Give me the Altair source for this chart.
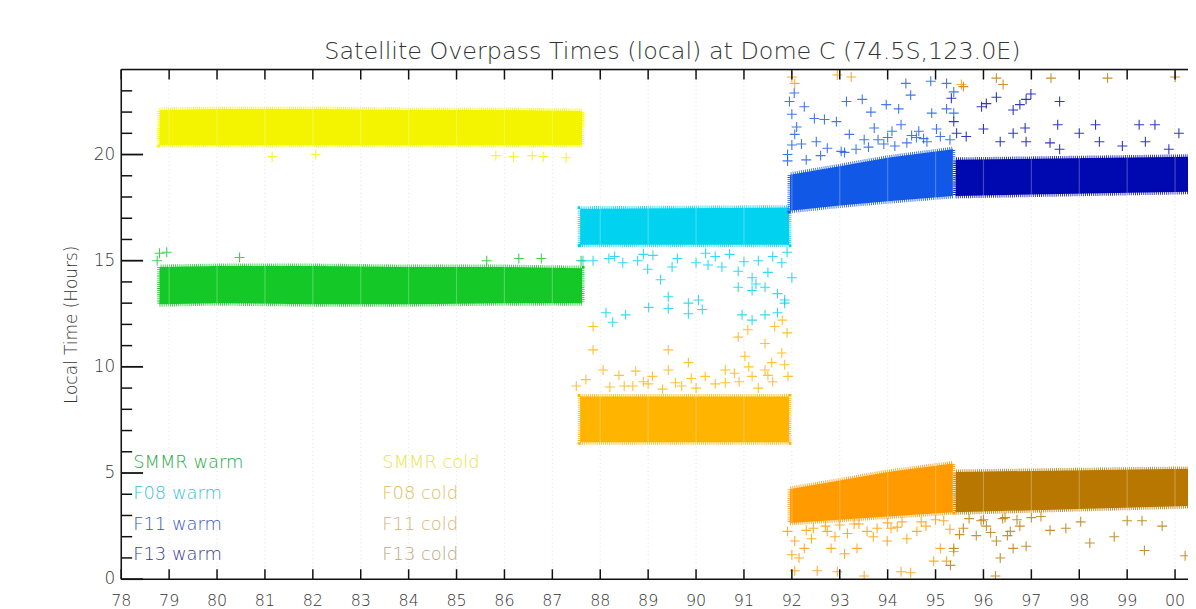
import altair as alt
import pandas as pd

# ---------------- data ----------------
years = list(range(78, 101))
year_labels = ["78", "79", "80", "81", "82", "83", "84", "85", "86", "87", "88",
               "89", "90", "91", "92", "93", "94", "95", "96", "97", "98", "99", "00"]
y_major = [0, 5, 10, 15, 20]
y_minor = [1, 2, 3, 4, 6, 7, 8, 9, 11, 12, 13, 14, 16, 17, 18, 19, 21, 22, 23]

series = ["SMMR warm", "F08 warm", "F11 warm", "F13 warm",
          "SMMR cold", "F08 cold", "F11 cold", "F13 cold"]
colors = ["#14c828", "#00d2f0", "#1258e6", "#0008b0",
          "#f4f400", "#ffb400", "#ff9a00", "#b87800"]
text_colors = ["#22aa44", "#3cbede", "#3a58b8", "#3a3a8c",
               "#e6e640", "#e0be58", "#d8b470", "#bca67c"]

# dense bands (x = year, lo/hi = local time in hours)
band_series = ["SMMR warm"] * 6 + ["SMMR cold"] * 6 + ["F08 warm"] * 2 + ["F08 cold"] * 2 + \
              ["F11 warm"] * 4 + ["F11 cold"] * 4 + ["F13 warm"] * 2 + ["F13 cold"] * 2
band_x = [78.8, 80, 82, 84, 86, 87.62,
          78.8, 80, 82, 84, 86, 87.62,
          87.58, 91.94,
          87.58, 91.94,
          91.96, 93, 94, 95.36,
          91.96, 93, 94, 95.36,
          95.42, 100.4,
          95.42, 100.4]
band_lo = [12.95, 13.0, 12.95, 12.95, 13.0, 13.0,
           20.45, 20.45, 20.45, 20.45, 20.45, 20.45,
           15.75, 15.75,
           6.45, 6.45,
           17.35, 17.6, 17.8, 18.05,
           2.65, 2.8, 2.95, 3.15,
           18.05, 18.25,
           3.15, 3.45]
band_hi = [14.7, 14.75, 14.75, 14.7, 14.7, 14.65,
           22.1, 22.15, 22.15, 22.1, 22.1, 22.05,
           17.45, 17.5,
           8.6, 8.6,
           19.05, 19.45, 19.85, 20.25,
           4.25, 4.65, 5.05, 5.45,
           19.75, 19.9,
           5.05, 5.2]

# scattered overpasses outside the dense bands
smmr_warm_x = [78.8, 78.95, 78.75, 80.47, 85.63, 86.3, 86.77, 87.6]
smmr_warm_y = [15.35, 15.4, 15.0, 15.15, 15.0, 15.1, 15.1, 15.0]
smmr_cold_x = [81.15, 82.06, 85.82, 86.19, 86.58, 86.81, 87.29]
smmr_cold_y = [19.9, 20.0, 19.95, 19.9, 19.95, 19.9, 19.85]
f08_warm_x = [87.64, 87.85, 88.18, 88.47, 88.78, 88.99, 89.26, 89.61, 90.0, 90.25, 90.54,
              90.88, 91.17, 91.5, 91.79, 92.0, 90.88, 91.17, 91.44, 91.7, 91.85, 89.42,
              89.84, 90.05, 89.01, 89.42, 88.12, 88.26, 88.53, 89.84, 90.13, 90.96, 91.17,
              91.44, 91.7, 91.85, 88.3, 89.1, 90.4, 91.3, 90.7, 91.0, 91.6, 91.9, 89.5,
              88.9, 90.2, 91.25]
f08_warm_y = [15.0, 15.0, 15.1, 14.9, 15.0, 14.6, 14.1, 15.1, 14.9, 14.8, 14.7,
              14.5, 14.2, 14.45, 14.9, 14.2, 13.75, 13.6, 13.75, 13.45, 13.15, 13.3,
              13.0, 13.15, 12.8, 12.75, 12.55, 12.1, 12.45, 12.5, 12.7, 12.45, 12.2,
              12.45, 12.55, 13.0, 15.2, 15.25, 15.2, 15.0, 15.3, 14.95, 15.2, 15.4, 14.7,
              15.3, 15.35, 13.9]
f08_cold_x = [87.85, 87.85, 89.42, 87.7, 88.06, 88.39, 88.74, 89.09, 89.42, 89.84, 90.19,
              90.61, 90.88, 91.02, 91.17, 91.44, 91.58, 91.79, 91.64, 91.08, 91.44, 91.92,
              87.5, 89.57, 90.61, 88.68, 91.8, 91.9, 90.9, 89.0, 88.2, 88.9, 89.3, 89.7,
              90.0, 90.4, 90.8, 91.3, 91.6, 91.85, 88.5, 89.9, 91.1, 91.5]
f08_cold_y = [11.9, 10.8, 10.8, 9.4, 9.85, 9.6, 9.8, 9.55, 9.85, 10.2, 9.55,
              9.85, 11.4, 10.5, 9.55, 11.1, 10.2, 10.65, 11.9, 11.75, 9.85, 9.55,
              9.1, 9.25, 9.25, 9.1, 12.2, 11.6, 9.3, 9.2, 9.05, 9.3, 8.95, 9.1,
              9.0, 9.2, 9.7, 9.0, 9.3, 10.1, 9.1, 9.45, 10.0, 9.6]
f11_warm_x = [91.95, 92.0, 92.26, 92.47, 92.68, 92.93, 93.14, 93.47, 93.65, 93.97, 94.23,
              94.38, 94.48, 94.9, 95.23, 95.38, 94.92, 95.23, 95.38, 92.06, 92.2, 92.51,
              92.74, 93.2, 93.51, 93.72, 94.09, 94.28, 94.65, 95.02, 91.91, 91.91, 93.03,
              93.34, 93.92, 94.4, 94.82, 92.1, 93.8, 94.6, 92.0, 92.3, 92.6, 93.1, 93.6,
              94.0, 94.15, 94.5, 94.75, 95.1, 95.3, 92.05]
f11_warm_y = [22.5, 21.9, 22.25, 21.7, 21.65, 21.55, 22.5, 22.6, 22.0, 22.35, 22.15,
              23.35, 22.8, 23.45, 23.35, 22.95, 21.95, 22.15, 21.95, 20.95, 20.5, 20.6,
              20.3, 20.95, 20.7, 21.25, 21.1, 21.4, 21.1, 21.2, 20.0, 19.7, 20.15,
              20.25, 20.5, 20.55, 20.6, 21.3, 20.7, 20.8, 20.45, 19.75, 19.95, 20.1, 20.35,
              20.8, 20.4, 20.9, 20.75, 20.85, 20.7, 22.9]
f13_warm_x = [95.33, 95.96, 96.06, 96.27, 96.62, 96.76, 96.89, 96.99, 97.59, 96.0, 96.35,
              96.62, 96.87, 96.89, 97.55, 97.39, 97.59, 98.0, 98.34, 98.42, 98.9, 99.25,
              99.58, 99.38, 100.08, 99.87, 95.44, 95.64, 95.38]
f13_warm_y = [22.65, 22.25, 22.4, 22.7, 22.1, 22.35, 22.6, 22.85, 22.5, 21.2, 20.6,
              21.0, 21.25, 20.6, 21.4, 20.55, 20.25, 21.0, 21.4, 20.6, 20.4, 21.4,
              21.4, 20.6, 21.0, 20.25, 21.0, 20.85, 21.55]
f11_cold_x = [91.91, 92.06, 92.0, 92.06, 92.26, 92.41, 92.53, 92.74, 92.82, 92.95, 93.16,
              93.36, 93.51, 93.57, 93.78, 93.99, 94.07, 94.28, 94.48, 94.4, 94.61, 94.96,
              95.1, 95.23, 95.38, 94.8, 95.17, 92.0, 92.06, 92.95, 93.24, 95.54, 92.3,
              92.9, 93.4, 94.2, 92.15, 93.1, 92.45, 92.7, 93.0, 93.3, 93.7, 94.0, 94.3,
              94.7, 95.0, 95.3]
f11_cold_y = [2.25, 1.8, 1.15, 0.4, 1.45, 1.9, 0.4, 2.25, 1.45, 0.35, 2.15,
              1.45, 0.15, 2.25, 2.4, 1.8, 2.4, 0.35, 0.3, 1.9, 2.25, 0.85,
              1.45, 0.85, 1.3, 2.5, 2.75, 23.65, 23.35, 23.75, 23.65, 23.3, 2.3,
              2.0, 2.6, 2.45, 1.0, 1.2, 2.4, 2.5, 2.55, 2.6, 2.0, 2.65, 2.7,
              2.7, 2.8, 2.35]
f13_cold_x = [95.38, 95.31, 95.58, 95.85, 96.06, 96.27, 96.35, 96.56, 96.62, 96.76, 96.89,
              96.25, 97.39, 97.72, 98.03, 98.22, 98.73, 99.0, 99.31, 99.36, 99.73, 100.21,
              95.58, 96.27, 96.41, 97.41, 98.59, 100.0, 96.0, 96.45, 95.7, 95.95, 96.15,
              96.4, 96.7, 97.0, 97.2, 95.5, 96.5]
f13_cold_y = [1.45, 0.65, 2.4, 2.05, 2.5, 1.8, 1.0, 2.25, 1.45, 2.5, 1.55,
              0.15, 2.3, 2.4, 2.7, 1.7, 2.0, 2.75, 2.75, 1.35, 2.5, 1.1,
              23.2, 23.6, 23.3, 23.6, 23.6, 23.65, 2.8, 2.9, 2.85, 2.75, 2.2,
              2.85, 2.8, 2.9, 2.95, 2.1, 2.05]

legend_x = [78.25, 78.25, 78.25, 78.25, 83.45, 83.45, 83.45, 83.45]
legend_y = [5.47, 4.02, 2.57, 1.12, 5.47, 4.02, 2.57, 1.12]

title_text = "Satellite Overpass Times (local) at Dome C (74.5S,123.0E)"
ytitle_text = "Local Time (Hours)"

# ---------------- layout ----------------
X_MAX = 100.27
W, H = 1074, 513
FONT = "DejaVu Sans"
AXIS_COLOR = "#111111"
TEXT_COLOR = "#333333"

xs = alt.Scale(domain=[78, X_MAX], nice=False, zero=False)
ys = alt.Scale(domain=[0, 24], nice=False, zero=False)
cs = alt.Scale(domain=series, range=colors)

bands = pd.DataFrame({"series": band_series, "x": band_x, "lo": band_lo, "hi": band_hi})

pts = []
for name, xv, yv in [("SMMR warm", smmr_warm_x, smmr_warm_y), ("SMMR cold", smmr_cold_x, smmr_cold_y),
                     ("F08 warm", f08_warm_x, f08_warm_y), ("F08 cold", f08_cold_x, f08_cold_y),
                     ("F11 warm", f11_warm_x, f11_warm_y), ("F11 cold", f11_cold_x, f11_cold_y),
                     ("F13 warm", f13_warm_x, f13_warm_y), ("F13 cold", f13_cold_x, f13_cold_y)]:
    for a, b in zip(xv, yv):
        pts.append({"series": name, "x": a, "y": b})
points = pd.DataFrame(pts)

yrs = pd.DataFrame({"year": years, "label": year_labels})
ymaj = pd.DataFrame({"v": y_major, "label": [str(v) for v in y_major]})
ymin = pd.DataFrame({"v": y_minor})
leg = pd.DataFrame({"series": series, "x": legend_x, "y": legend_y, "tc": text_colors})

grid = alt.Chart(yrs).mark_rule(color="#dcdcdc", strokeWidth=1, strokeDash=[1, 3]).encode(
    x=alt.X("year:Q", scale=xs, axis=None), y=alt.value(0), y2=alt.value(H))
grid_over = alt.Chart(yrs).mark_rule(color="white", strokeWidth=1.2, opacity=0.25).encode(
    x=alt.X("year:Q", scale=xs, axis=None), y=alt.value(0), y2=alt.value(H))

area = alt.Chart(bands).mark_area(clip=True, opacity=1, strokeWidth=5, strokeDash=[0.8, 1.3]).encode(
    x=alt.X("x:Q", scale=xs, axis=None),
    y=alt.Y("lo:Q", scale=ys, axis=None),
    y2="hi:Q",
    color=alt.Color("series:N", scale=cs, legend=None),
    stroke=alt.Stroke("series:N", scale=cs, legend=None),
    detail="series:N")

cross = alt.Chart(points).mark_point(
    shape="M-1,0L1,0M0,-1L0,1", filled=False, size=100, strokeWidth=1.1, opacity=0.8, clip=True
).encode(
    x=alt.X("x:Q", scale=xs, axis=None),
    y=alt.Y("y:Q", scale=ys, axis=None),
    color=alt.Color("series:N", scale=cs, legend=None))

frame = pd.DataFrame({"x": [78], "x2": [X_MAX], "y0": [0], "y1": [24]})
left_line = alt.Chart(frame).mark_rule(color=AXIS_COLOR, strokeWidth=1.5).encode(
    x=alt.X("x:Q", scale=xs), y=alt.Y("y0:Q", scale=ys), y2="y1:Q")
bottom_line = alt.Chart(frame).mark_rule(color=AXIS_COLOR, strokeWidth=1.5).encode(
    x=alt.X("x:Q", scale=xs), x2="x2:Q", y=alt.Y("y0:Q", scale=ys))
top_line = alt.Chart(frame).mark_rule(color=AXIS_COLOR, strokeWidth=1.5).encode(
    x=alt.X("x:Q", scale=xs), x2="x2:Q", y=alt.Y("y1:Q", scale=ys))

xt_bot = alt.Chart(yrs).mark_rule(color=AXIS_COLOR, strokeWidth=1.5).encode(
    x=alt.X("year:Q", scale=xs), y=alt.value(H), y2=alt.value(H - 10))
xt_top = alt.Chart(yrs).mark_rule(color=AXIS_COLOR, strokeWidth=1.5).encode(
    x=alt.X("year:Q", scale=xs), y=alt.value(0), y2=alt.value(10))
yt_maj = alt.Chart(ymaj).mark_rule(color=AXIS_COLOR, strokeWidth=1.8).encode(
    y=alt.Y("v:Q", scale=ys), x=alt.value(0), x2=alt.value(22))
yt_min = alt.Chart(ymin).mark_rule(color=AXIS_COLOR, strokeWidth=1.5).encode(
    y=alt.Y("v:Q", scale=ys), x=alt.value(0), x2=alt.value(11))

xlab = alt.Chart(yrs).mark_text(font=FONT, fontSize=16, fontWeight=200, color=TEXT_COLOR,
                                baseline="middle", align="center").encode(
    x=alt.X("year:Q", scale=xs), y=alt.value(H + 22), text="label:N")
ylab = alt.Chart(ymaj).mark_text(font=FONT, fontSize=17, fontWeight=200, color=TEXT_COLOR,
                                 baseline="middle", align="right").encode(
    y=alt.Y("v:Q", scale=ys), x=alt.value(-6), text="label:N")

legend = alt.Chart(leg).mark_text(font=FONT, fontSize=18, fontWeight=200, baseline="middle",
                                  align="left").encode(
    x=alt.X("x:Q", scale=xs), y=alt.Y("y:Q", scale=ys), text="series:N",
    color=alt.Color("tc:N", scale=None, legend=None))

title = alt.Chart(pd.DataFrame({"t": [title_text]})).mark_text(
    font=FONT, fontSize=24, fontWeight=200, color=TEXT_COLOR, baseline="middle", align="center").encode(
    x=alt.value(555), y=alt.value(-18), text="t:N")
ytitle = alt.Chart(pd.DataFrame({"t": [ytitle_text]})).mark_text(
    font=FONT, fontSize=17, fontWeight=200, color=TEXT_COLOR, baseline="middle", align="center",
    angle=270).encode(
    x=alt.value(-50), y=alt.value(257), text="t:N")

chart = alt.layer(grid, area, grid_over, cross, xt_bot, xt_top, yt_maj, yt_min, left_line, bottom_line,
                  top_line, xlab, ylab, legend, title, ytitle).properties(
    width=W, height=H,
    autosize=alt.AutoSizeParams(type="none"),
    padding={"left": 114, "top": 60, "right": 0, "bottom": 28},
).configure_view(stroke=None).configure(background="white")

chart.save("out.html", embed_options={"renderer": "svg", "actions": False})
